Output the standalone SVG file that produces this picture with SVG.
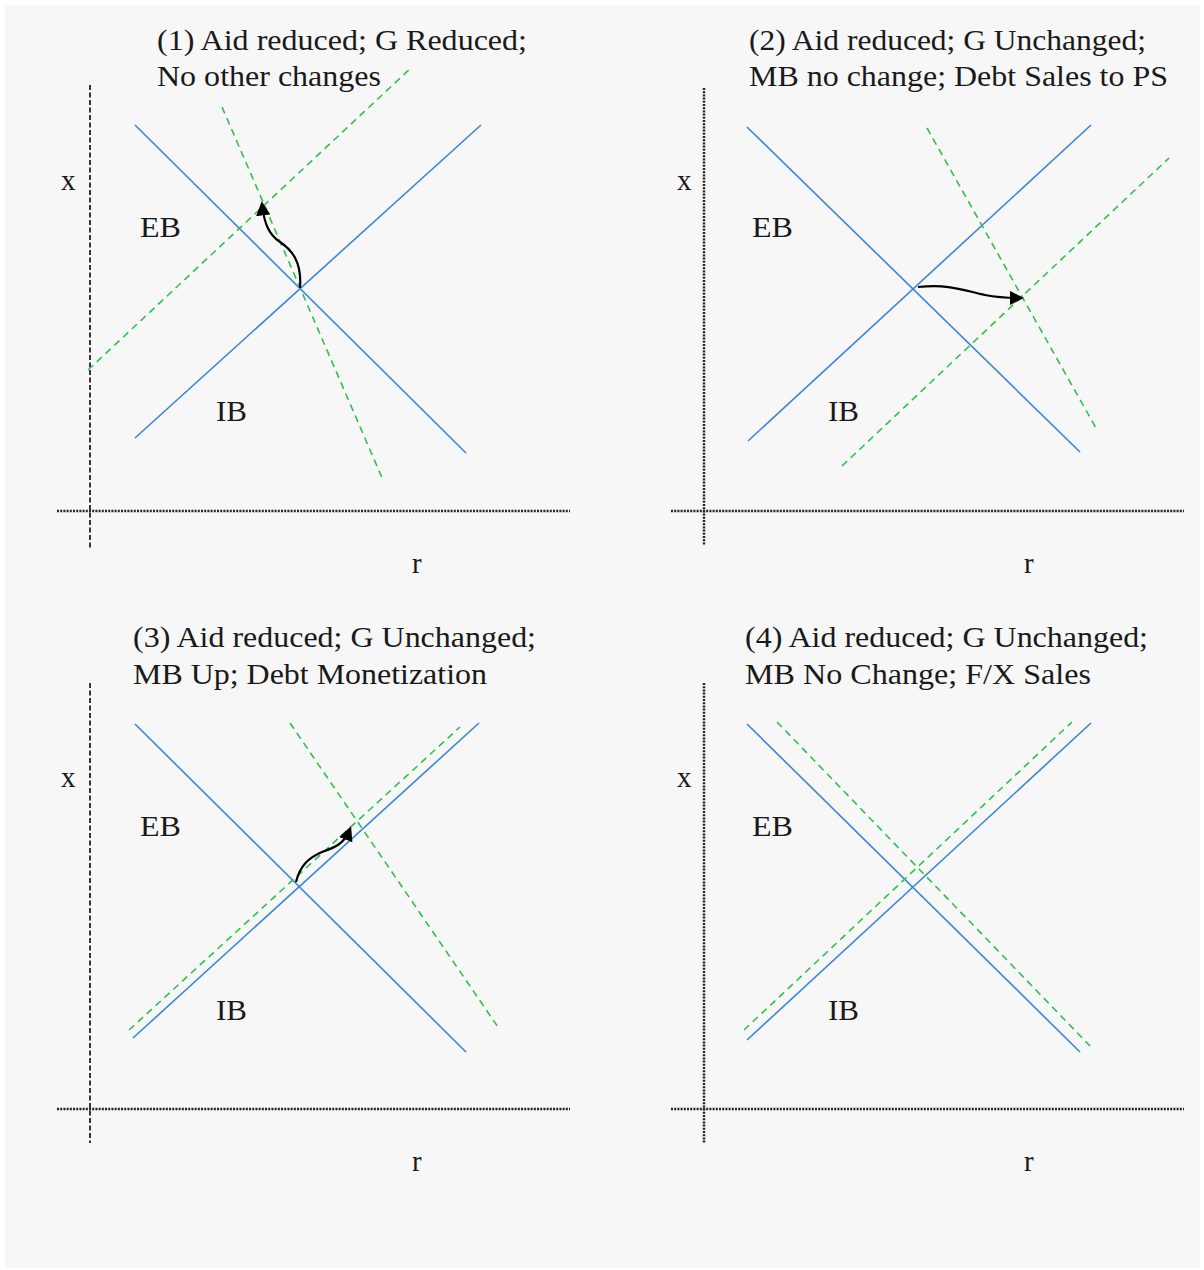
<svg xmlns="http://www.w3.org/2000/svg" width="1204" height="1270" viewBox="0 0 1204 1270">
<defs>
<style>
.t{font-family:"Liberation Serif","Times New Roman",serif;font-size:29px;fill:#1a1a1a}
.b{stroke:#3a86d8;stroke-width:1.6;fill:none}
.g{stroke:#2ec24a;stroke-width:1.6;fill:none;stroke-dasharray:7,5}
.ax{stroke:#222;stroke-width:2.5;fill:none;stroke-dasharray:2,1.2}
.axd{stroke:#222;stroke-width:1.8;fill:none;stroke-dasharray:5,2.5}
.arr{stroke:#000;stroke-width:2.2;fill:none;marker-end:url(#ah)}
</style>
<marker id="ah" viewBox="0 0 10 10" refX="8" refY="5" markerWidth="6.5" markerHeight="6.5" orient="auto" markerUnits="strokeWidth">
<path d="M0,0 L10,5 L0,10 z" fill="#000"/>
</marker>
</defs>
<rect width="1204" height="1270" fill="#ffffff"/>
<rect x="5" y="5" width="1195" height="1263" fill="#f7f7f7"/>

<g id="panel1">
<text class="t" x="157" y="50" textLength="370" lengthAdjust="spacingAndGlyphs">(1) Aid reduced; G Reduced;</text>
<text class="t" x="157" y="86" textLength="224" lengthAdjust="spacingAndGlyphs">No other changes</text>
<line class="axd" x1="90" y1="85" x2="90" y2="548"/>
<line class="ax" x1="57" y1="511" x2="570" y2="511"/>
<text class="t" x="61" y="190">x</text>
<text class="t" x="412" y="573">r</text>
<text class="t" x="140" y="237" textLength="41" lengthAdjust="spacingAndGlyphs">EB</text>
<text class="t" x="216" y="421" textLength="31" lengthAdjust="spacingAndGlyphs">IB</text>
<line class="b" x1="135" y1="125" x2="466" y2="453"/>
<line class="b" x1="135" y1="438" x2="481" y2="125"/>
<line class="g" x1="88" y1="370" x2="412" y2="67"/>
<line class="g" x1="222" y1="107" x2="383" y2="480"/>
</g>

<g id="panel2">
<text class="t" x="749" y="50" textLength="397" lengthAdjust="spacingAndGlyphs">(2) Aid reduced; G Unchanged;</text>
<text class="t" x="749" y="86" textLength="419" lengthAdjust="spacingAndGlyphs">MB no change; Debt Sales to PS</text>
<line class="ax" x1="704" y1="88" x2="704" y2="545"/>
<line class="ax" x1="671" y1="511" x2="1184" y2="511"/>
<text class="t" x="677" y="190">x</text>
<text class="t" x="1024" y="573">r</text>
<text class="t" x="752" y="237" textLength="41" lengthAdjust="spacingAndGlyphs">EB</text>
<text class="t" x="828" y="421" textLength="31" lengthAdjust="spacingAndGlyphs">IB</text>
<line class="b" x1="747" y1="127" x2="1080" y2="452"/>
<line class="b" x1="748" y1="441" x2="1091" y2="125"/>
<line class="g" x1="927" y1="128" x2="1096" y2="428"/>
<line class="g" x1="842" y1="466" x2="1169" y2="158"/>
</g>

<g id="panel3">
<text class="t" x="133" y="647" textLength="403" lengthAdjust="spacingAndGlyphs">(3) Aid reduced; G Unchanged;</text>
<text class="t" x="133" y="684" textLength="354" lengthAdjust="spacingAndGlyphs">MB Up; Debt Monetization</text>
<line class="axd" x1="90" y1="683" x2="90" y2="1143"/>
<line class="ax" x1="57" y1="1109" x2="570" y2="1109"/>
<text class="t" x="61" y="787">x</text>
<text class="t" x="412" y="1171">r</text>
<text class="t" x="140" y="836" textLength="41" lengthAdjust="spacingAndGlyphs">EB</text>
<text class="t" x="216" y="1020" textLength="31" lengthAdjust="spacingAndGlyphs">IB</text>
<line class="b" x1="135" y1="724" x2="466" y2="1052"/>
<line class="b" x1="133" y1="1038" x2="479" y2="723"/>
<line class="g" x1="129" y1="1030" x2="460" y2="727"/>
<line class="g" x1="290" y1="723" x2="500" y2="1030"/>
</g>

<g id="panel4">
<text class="t" x="745" y="647" textLength="403" lengthAdjust="spacingAndGlyphs">(4) Aid reduced; G Unchanged;</text>
<text class="t" x="745" y="684" textLength="346" lengthAdjust="spacingAndGlyphs">MB No Change; F/X Sales</text>
<line class="ax" x1="704" y1="683" x2="704" y2="1143"/>
<line class="ax" x1="671" y1="1109" x2="1184" y2="1109"/>
<text class="t" x="677" y="787">x</text>
<text class="t" x="1024" y="1171">r</text>
<text class="t" x="752" y="836" textLength="41" lengthAdjust="spacingAndGlyphs">EB</text>
<text class="t" x="828" y="1020" textLength="31" lengthAdjust="spacingAndGlyphs">IB</text>
<line class="b" x1="747" y1="724" x2="1080" y2="1052"/>
<line class="b" x1="747" y1="1040" x2="1091" y2="723"/>
<line class="g" x1="777" y1="722" x2="1090" y2="1046"/>
<line class="g" x1="744" y1="1030" x2="1072" y2="722"/>
</g>

<g id="connectors">
<path class="arr" d="M300,288 C302,262 292,250 280,242 C268,234 264,222 262,204"/>
<path class="arr" d="M918,287 C950,284 962,290 985,295 C1000,298 1010,298 1021,298"/>
<path class="arr" d="M296,882 C300,866 308,858 322,852 C336,847 344,844 350,829"/>
</g>
</svg>
